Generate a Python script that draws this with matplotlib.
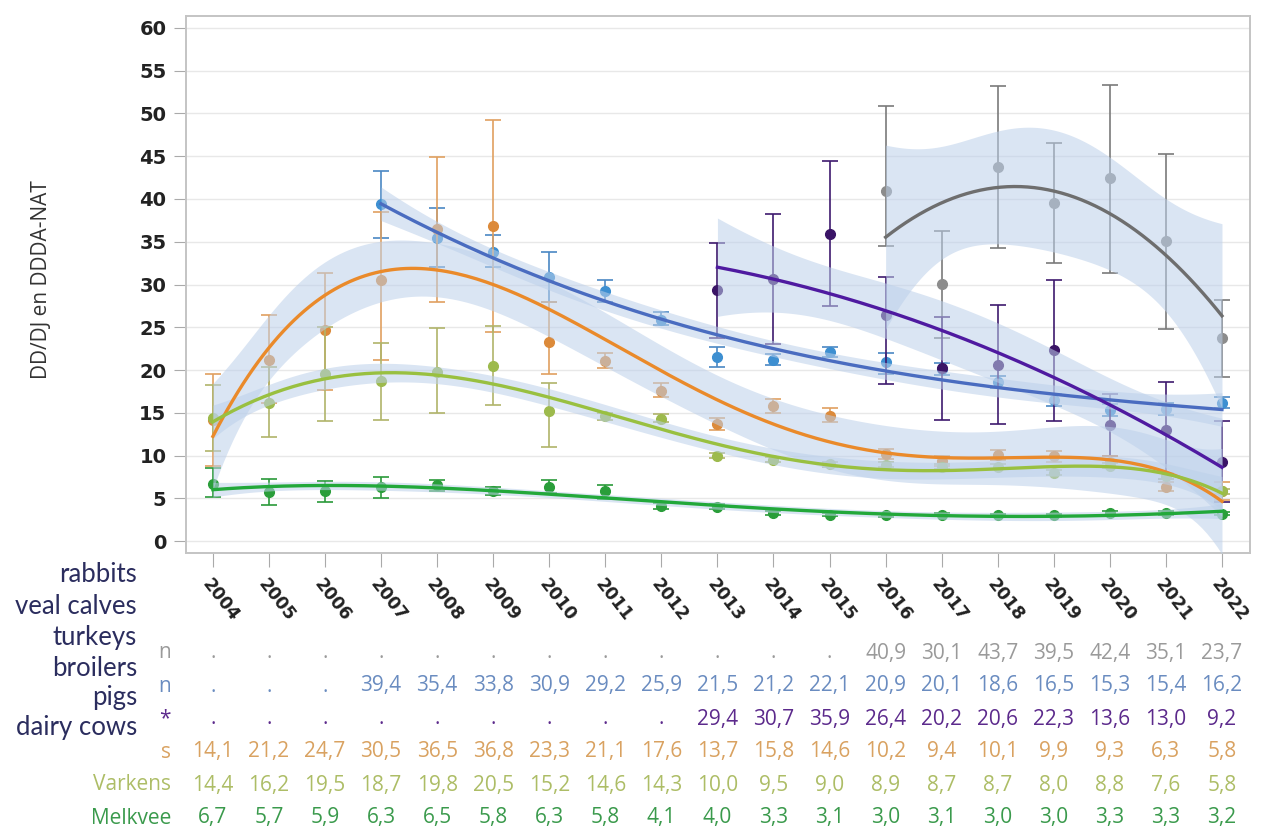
import numpy as np
import matplotlib
matplotlib.use("Agg")
import matplotlib.pyplot as plt
from matplotlib import transforms

nan = np.nan
years = list(range(2004, 2023))

rabbits = [nan] * 12 + [40.9, 30.1, 43.7, 39.5, 42.4, 35.1, 23.7]
rabbits_lo = [nan] * 12 + [34.5, 23.7, 34.3, 32.5, 31.4, 24.8, 19.2]
rabbits_hi = [nan] * 12 + [50.9, 36.3, 53.2, 46.5, 53.3, 45.3, 28.2]

veal = [nan] * 3 + [39.4, 35.4, 33.8, 30.9, 29.2, 25.9, 21.5, 21.2, 22.1, 20.9, 20.1, 18.6, 16.5, 15.3, 15.4, 16.2]
veal_lo = [nan] * 3 + [35.4, 32.0, 32.0, 28.0, 28.0, 25.3, 20.3, 20.6, 21.5, 19.5, 19.4, 17.9, 15.8, 14.6, 14.7, 15.6]
veal_hi = [nan] * 3 + [43.3, 38.9, 35.8, 33.8, 30.5, 26.8, 22.7, 21.9, 22.7, 22.0, 20.8, 19.3, 17.2, 16.0, 16.1, 16.9]

turkeys = [nan] * 9 + [29.4, 30.7, 35.9, 26.4, 20.2, 20.6, 22.3, 13.6, 13.0, 9.2]
turkeys_lo = [nan] * 9 + [23.8, 23.1, 27.5, 18.4, 14.2, 13.7, 14.0, 9.9, 7.3, 4.6]
turkeys_hi = [nan] * 9 + [34.8, 38.3, 44.5, 30.9, 26.2, 27.6, 30.5, 17.2, 18.6, 14.0]

broilers = [14.1, 21.2, 24.7, 30.5, 36.5, 36.8, 23.3, 21.1, 17.6, 13.7, 15.8, 14.6, 10.2, 9.4, 10.1, 9.9, 9.3, 6.3, 5.8]
broilers_lo = [8.8, 16.2, 17.7, 21.2, 27.9, 24.4, 19.5, 20.2, 16.8, 13.0, 15.0, 13.9, 9.6, 8.8, 9.5, 9.3, 8.7, 5.8, 4.8]
broilers_hi = [19.5, 26.4, 31.4, 38.5, 44.9, 49.2, 28.0, 22.0, 18.5, 14.4, 16.6, 15.5, 10.8, 10.0, 10.7, 10.5, 9.9, 6.9, 6.9]

pigs = [14.4, 16.2, 19.5, 18.7, 19.8, 20.5, 15.2, 14.6, 14.3, 10.0, 9.5, 9.0, 8.9, 8.7, 8.7, 8.0, 8.8, 7.6, 5.8]
pigs_lo = [10.5, 12.2, 14.0, 14.1, 15.0, 15.9, 11.0, 14.2, 13.9, 9.7, 9.2, 8.7, 8.6, 8.4, 8.4, 7.7, 8.5, 7.3, 5.5]
pigs_hi = [18.2, 20.3, 25.0, 23.2, 24.9, 25.1, 18.5, 15.0, 14.8, 10.3, 9.8, 9.3, 9.2, 9.0, 9.0, 8.3, 9.1, 7.9, 6.1]

dairy = [6.7, 5.7, 5.9, 6.3, 6.5, 5.8, 6.3, 5.8, 4.1, 4.0, 3.3, 3.1, 3.0, 3.1, 3.0, 3.0, 3.3, 3.3, 3.2]
dairy_lo = [5.2, 4.2, 4.6, 5.0, 5.8, 5.4, 5.6, 4.9, 3.8, 3.8, 3.1, 2.9, 2.8, 2.9, 2.8, 2.8, 3.1, 3.1, 3.0]
dairy_hi = [8.5, 7.3, 7.0, 7.5, 7.1, 6.3, 7.1, 6.6, 4.5, 4.3, 3.5, 3.3, 3.2, 3.3, 3.2, 3.2, 3.5, 3.5, 3.4]

# Dutch row labels are mostly hidden behind the English ones; only these bits show
dutch_visible = ["n", "n", "*", "s", "Varkens", "Melkvee"]
english_labels = ["rabbits", "veal calves", "turkeys", "broilers", "pigs", "dairy cows"]

# name, values, lo, hi, fit degree, point colour, line colour, error colour, table colour
series = [
    ("rabbits", rabbits, rabbits_lo, rabbits_hi, 2, "#8c8c8c", "#6e6e6e", "#7a7a7a", "#9a9a9a"),
    ("veal", veal, veal_lo, veal_hi, 3, "#3d8fd1", "#4a6cc0", "#4a88c4", "#6a8cc0"),
    ("turkeys", turkeys, turkeys_lo, turkeys_hi, 2, "#3a1466", "#4f1aa0", "#3e1a6e", "#5c2a8c"),
    ("broilers", broilers, broilers_lo, broilers_hi, 5, "#dc8a3a", "#ea8a2a", "#e0a060", "#d9a261"),
    ("pigs", pigs, pigs_lo, pigs_hi, 5, "#9dba4c", "#99c040", "#b0b46a", "#adbd66"),
    ("dairy", dairy, dairy_lo, dairy_hi, 4, "#2a9e3a", "#22a83a", "#2a9a3a", "#3a9a4c"),
]


def fit_band(x, y, deg):
    xm = x.mean()
    coef, cov = np.polyfit(x - xm, y, deg, cov=True)
    xs = np.linspace(x[0], x[-1], 200)
    X = np.vander(xs - xm, deg + 1)
    yf = X @ coef
    se = np.sqrt(np.einsum("ij,jk,ik->i", X, cov, X))
    return xs, yf, 2.0 * se


W, H = 1267, 832
fig = plt.figure(figsize=(W / 100, H / 100), dpi=100)
ax = fig.add_axes([186 / W, 1 - 553 / H, (1250 - 186) / W, (553 - 16) / H])

idx = np.arange(len(years))
for name, vals, lo, hi, deg, pc, lc, ec, tc in series:
    v = np.array(vals, dtype=float)
    lo = np.array(lo, dtype=float)
    hi = np.array(hi, dtype=float)
    ok = ~np.isnan(v)
    x = idx[ok].astype(float)
    ax.errorbar(x, v[ok], yerr=[v[ok] - lo[ok], hi[ok] - v[ok]], fmt="none",
                ecolor=ec, elinewidth=1.2, capsize=6, capthick=1.2, zorder=2)
    ax.plot(x, v[ok], "o", color=pc, markersize=7, zorder=2)
    xs, yf, band = fit_band(x, v[ok], deg)
    ax.fill_between(xs, yf - band, yf + band, color="#bcd0ea", alpha=0.55, lw=0, zorder=3)
    ax.plot(xs, yf, color=lc, lw=2.4, zorder=4)

ax.set_xlim(-0.48, 18.5)
ax.set_ylim(-1.4, 61.4)
ax.set_yticks(range(0, 61, 5))
ax.set_xticks(idx)
ax.set_xticklabels([str(y) for y in years], rotation=-52, ha="left", va="top",
                   rotation_mode="anchor", fontsize=12.5, fontweight="bold", color="#222222")
ax.tick_params(axis="x", length=10, color="#aaaaaa", pad=6)
ax.tick_params(axis="y", length=9, color="#aaaaaa", labelsize=14, pad=5)
for lab in ax.get_yticklabels():
    lab.set_fontweight("bold")
    lab.set_color("#222222")
ax.grid(axis="y", color="#e8e8e8", lw=1)
ax.set_axisbelow(True)
for sp in ax.spines.values():
    sp.set_color("#c4c4c4")
    sp.set_linewidth(1.4)

fig.text(42 / W, 1 - 280 / H, "DD/DJ en DDDA-NAT", rotation=90, ha="center", va="center",
         fontsize=15, color="#333333", family="Open Sans")

# data table below the chart
trans = transforms.blended_transform_factory(ax.transData, fig.transFigure)
row_y = [653, 686, 719, 752, 785, 818]
for (name, vals, lo, hi, deg, pc, lc, ec, tc), ry, dl in zip(series, row_y, dutch_visible):
    for i, val in enumerate(vals):
        s = "." if np.isnan(val) else f"{val:.1f}".replace(".", ",")
        fig.text(i, 1 - ry / H, s, transform=trans, ha="center", va="center",
                 fontsize=15, color=tc, family="Open Sans")
    fig.text(171 / W, 1 - ry / H, dl, ha="right", va="center", fontsize=15,
             color=tc, family="Open Sans")

eng_y = [575, 606, 637, 668, 698, 728]
for lab, ey in zip(english_labels, eng_y):
    fig.text(137 / W, 1 - ey / H, lab, ha="right", va="center", fontsize=18.5,
             color="#2b2d5e", family="Lato")

fig.savefig("out.png", dpi=100)
